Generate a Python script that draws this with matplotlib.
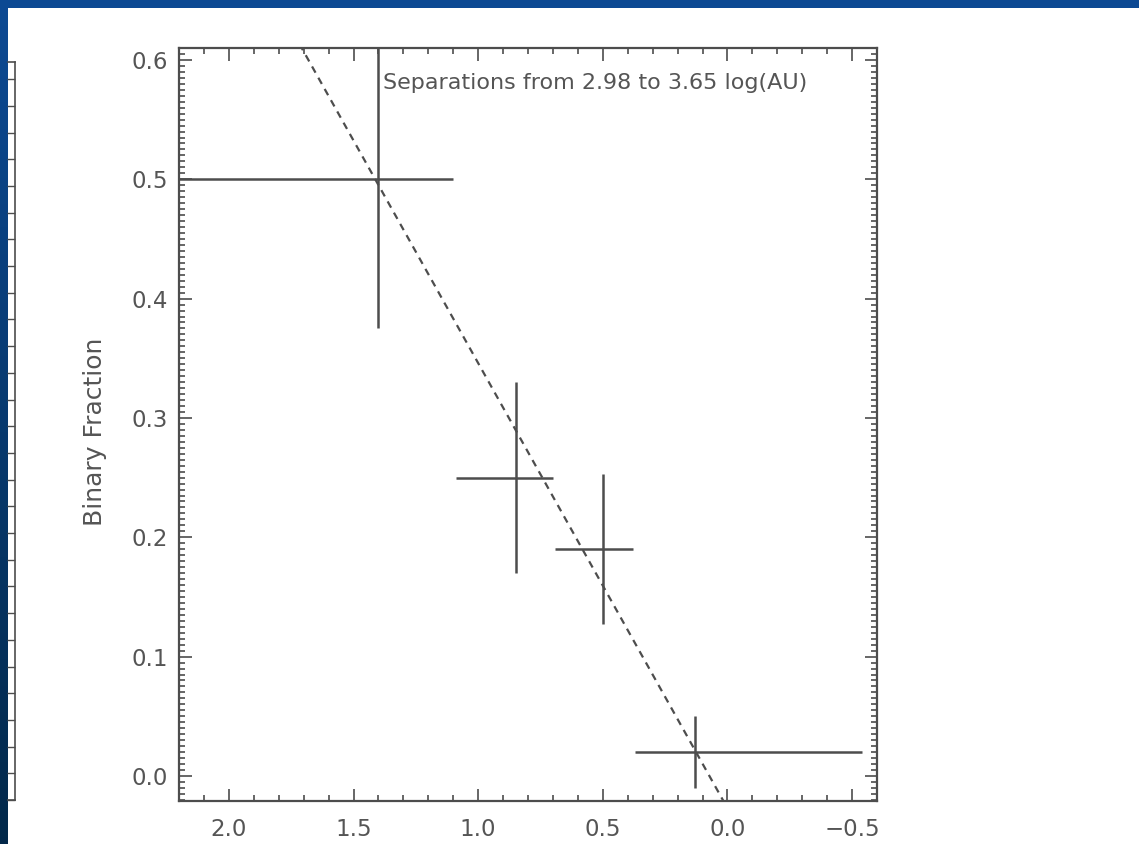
import numpy as np
import matplotlib
matplotlib.use("Agg")
import matplotlib.pyplot as plt
from matplotlib.patches import Rectangle
from matplotlib.ticker import MultipleLocator

# Binary fraction per bin, with the bin edges and the errors
x_mid = [1.40, 0.85, 0.50, 0.13]
bin_hi = [2.40, 1.09, 0.69, 0.37]
bin_lo = [1.10, 0.70, 0.38, -0.54]
frac = [0.50, 0.25, 0.19, 0.02]
frac_err = [0.125, 0.08, 0.063, 0.03]

# Linear fit through the points
fit_slope = 0.373
fit_intercept = -0.027

x_ticks = [2.0, 1.5, 1.0, 0.5, 0.0, -0.5]
y_ticks = [0.0, 0.1, 0.2, 0.3, 0.4, 0.5, 0.6]
note = "Separations from 2.98 to 3.65 log(AU)"

W, H = 1139, 844
ink = "#4d4d4d"
txt = "#555555"

fig = plt.figure(figsize=(W / 100, H / 100), dpi=100)

# slide background: blue gradient with a white panel
bg = fig.add_axes([0, 0, 1, 1], zorder=0)
grad = np.linspace(0, 1, 256)
top = np.array([0.05, 0.29, 0.58])
bot = np.array([0.01, 0.16, 0.29])
img = top[None, None, :] + (bot - top)[None, None, :] * grad[:, None, None]
bg.imshow(img, aspect="auto", extent=[0, 1, 0, 1], origin="upper")
bg.set_xlim(0, 1)
bg.set_ylim(0, 1)
bg.axis("off")
fig.add_artist(Rectangle((8 / W, 0), 1, (H - 8) / H, transform=fig.transFigure,
                         facecolor="white", edgecolor="none", zorder=0.5))

# edge of the neighbouring panel on the left
side = fig.add_axes([8 / W, (H - 800) / H, 7 / W, 738 / H], zorder=1)
side.set_xlim(0, 1)
side.set_ylim(0, 738 / 26.7)
side.set_xticks([])
side.yaxis.set_major_locator(MultipleLocator(1))
side.yaxis.tick_right()
side.tick_params(axis="y", direction="in", length=6, width=1.0, color=ink,
                 labelright=False)
side.spines["left"].set_visible(False)
for s in ["right", "top", "bottom"]:
    side.spines[s].set_color(ink)
    side.spines[s].set_linewidth(1.2)
side.patch.set_alpha(0)

ax = fig.add_axes([179 / W, (H - 801) / H, 698 / W, 753 / H], zorder=2)
ax.patch.set_alpha(0)

xerr = [np.array(x_mid) - np.array(bin_lo), np.array(bin_hi) - np.array(x_mid)]
ax.errorbar(x_mid, frac, xerr=xerr, yerr=frac_err, fmt="none",
            ecolor=ink, elinewidth=1.8, capsize=0)

xf = np.array([2.2, -0.6])
ax.plot(xf, fit_intercept + fit_slope * xf, color=ink, lw=1.6,
        linestyle=(0, (3.2, 2.6)))

ax.set_xlim(2.2, -0.6)
ax.set_ylim(-0.021, 0.61)
ax.set_xticks(x_ticks)
ax.set_xticklabels([f"{v:.1f}".replace("-", "\u2212") for v in x_ticks])
ax.set_yticks(y_ticks)
ax.set_yticklabels([f"{v:.1f}" for v in y_ticks])
ax.xaxis.set_minor_locator(MultipleLocator(0.1))
ax.yaxis.set_minor_locator(MultipleLocator(0.005))
ax.tick_params(which="both", direction="in", top=True, right=True,
               color=ink, width=1.2)
ax.tick_params(which="major", length=9, labelsize=16.5, labelcolor=txt)
ax.tick_params(which="minor", length=4)
ax.tick_params(axis="x", which="major", pad=12)
ax.tick_params(axis="y", which="major", pad=8)
for s in ax.spines.values():
    s.set_color(ink)
    s.set_linewidth(1.6)

ax.set_ylabel("Binary Fraction", fontsize=18, color=txt)
ax.yaxis.set_label_coords(-0.103, 0.49)

ax.text(0.292, 0.9455, note, transform=ax.transAxes, fontsize=16,
        color=txt, ha="left", va="baseline")

fig.savefig("out.png", dpi=100)
